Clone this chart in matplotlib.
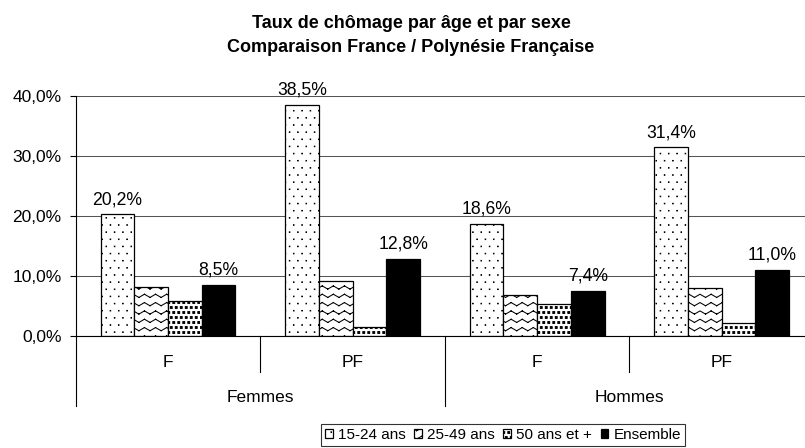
import numpy as np
import matplotlib
matplotlib.use('Agg')
import matplotlib.pyplot as plt
import matplotlib.hatch as mhatch
import matplotlib.transforms as mtransforms
from matplotlib.path import Path
from matplotlib.lines import Line2D

# ---------------- data ----------------
sexes = ['Femmes', 'Hommes']
zones = ['F', 'PF', 'F', 'PF']
series_names = ['15-24 ans', '25-49 ans', '50 ans et +', 'Ensemble']
age_15_24 = [20.2, 38.5, 18.6, 31.4]
age_25_49 = [8.1, 9.1, 6.7, 8.0]
age_50_plus = [5.7, 1.5, 5.2, 2.1]
ensemble = [8.5, 12.8, 7.4, 11.0]
labelled = [True, False, False, True]
y_ticks = [0, 10, 20, 30, 40]
title_lines = ['Taux de chômage par âge et par sexe',
               'Comparaison France / Polynésie Française']


# ---------------- custom hatch patterns ----------------
def _square(vertices, codes, i, cx, cy, h):
    vertices[i:i + 5] = [[cx - h, cy - h], [cx + h, cy - h], [cx + h, cy + h],
                         [cx - h, cy + h], [cx - h, cy - h]]
    codes[i] = Path.MOVETO
    codes[i + 1:i + 4] = Path.LINETO
    codes[i + 4] = Path.CLOSEPOLY


class SquareGrid(mhatch.HatchPatternBase):
    char = '.'
    cols = 12
    rows = 14
    half = 0.002

    def __init__(self, hatch, density):
        n = hatch.count(self.char)
        self.num_vertices = 5 * self.cols * self.rows if n else 0

    def set_vertices_and_codes(self, vertices, codes):
        i = 0
        for r in range(self.rows):
            off = 0.5 if r % 2 else 0.0
            y = (r + 0.5) / self.rows
            for c in range(self.cols):
                x = (c + 0.25 + off) / self.cols
                _square(vertices, codes, i, x, y, self.half)
                i += 5


class SparseDots(SquareGrid):
    char = '.'
    cols = 12
    rows = 14
    half = 0.0025


class DenseSquares(SquareGrid):
    char = 'o'
    cols = 20
    rows = 20
    half = 0.009


class Zigzag(mhatch.HatchPatternBase):
    char = '/'
    rows = 12
    periods = 9
    amp = 0.016

    def __init__(self, hatch, density):
        n = hatch.count(self.char)
        self.num_vertices = (self.rows * self.periods * 2 * 2) if n else 0

    def set_vertices_and_codes(self, vertices, codes):
        i = 0
        steps = 2 * self.periods
        for r in range(self.rows):
            y = (r + 0.5) / self.rows
            for k in range(steps):
                s0 = 1 if k % 2 == 0 else -1
                vertices[i] = [k / steps, y + s0 * self.amp]
                vertices[i + 1] = [(k + 1) / steps, y - s0 * self.amp]
                codes[i] = Path.MOVETO
                codes[i + 1] = Path.LINETO
                i += 2


mhatch._hatch_types[:] = [SparseDots, Zigzag, DenseSquares]

# ---------------- style ----------------
plt.rcParams['font.family'] = ['Liberation Sans', 'DejaVu Sans']
plt.rcParams['hatch.linewidth'] = 0.75

fig = plt.figure(figsize=(8.05, 4.48), dpi=100)
ax = fig.add_axes([75.7 / 805, 1 - 335.5 / 448, (814 - 75.7) / 805, 239.8 / 448])

series = [age_15_24, age_25_49, age_50_plus, ensemble]
hatches = ['.', '/', 'o', None]
faces = ['white', 'white', 'white', 'black']
x = np.arange(len(zones))
w = 0.1826


def fmt(v):
    return f'{v:.1f}'.replace('.', ',') + '%'


handles = []
for k, vals in enumerate(series):
    cont = ax.bar(x + (k - 1.5) * w, vals, w, facecolor=faces[k], edgecolor='black',
                  linewidth=0.9, hatch=hatches[k], label=series_names[k], zorder=2)
    handles.append(cont)
    if labelled[k]:
        ax.bar_label(cont, labels=[fmt(v) for v in vals], padding=4.5, fontsize=12.7)

ax.set_xlim(-0.5, len(zones) - 0.5)
ax.set_ylim(y_ticks[0], y_ticks[-1])
ax.set_yticks(y_ticks)
ax.set_yticklabels([fmt(v) for v in y_ticks], fontsize=12.5)
ax.tick_params(axis='y', length=4.3, width=0.8, pad=6, colors='black')
ax.set_xticks([])
ax.yaxis.grid(True, color='#555555', linewidth=0.75)
ax.set_axisbelow(True)
for s in ['top', 'right']:
    ax.spines[s].set_visible(False)
ax.spines['left'].set_linewidth(0.8)
ax.spines['bottom'].set_linewidth(0.8)

trans = mtransforms.blended_transform_factory(ax.transData, ax.transAxes)
# zone labels and dividers
for i, z in enumerate(zones):
    ax.text(i, -0.130, z, transform=trans, ha='center', va='baseline', fontsize=12.5)
n_per = len(zones) // len(sexes)
for b in range(len(zones)):
    xb = b - 0.5
    depth = -0.294 if b % n_per == 0 else -0.152
    ax.add_line(Line2D([xb, xb], [0, depth], transform=trans, color='black',
                       linewidth=0.8, clip_on=False))
for j, s in enumerate(sexes):
    xc = j * n_per + (n_per - 1) / 2
    ax.text(xc, -0.276, s, transform=trans, ha='center', va='baseline', fontsize=12.5)

# title
fig.text(411 / 805, 1 - 27.5 / 448, title_lines[0], ha='center', va='baseline',
         fontsize=13, fontweight='bold')
fig.text(411 / 805, 1 - 52.3 / 448, title_lines[1], ha='center', va='baseline',
         fontsize=13, fontweight='bold')

leg = fig.legend(handles, series_names, loc='center', bbox_to_anchor=(503 / 805, 1 - 435 / 448),
                 ncol=4, fontsize=11, frameon=True, fancybox=False, edgecolor='black',
                 handlelength=0.5, handleheight=0.5, handletextpad=0.35,
                 columnspacing=0.55, borderpad=0.25, borderaxespad=0)
leg.get_frame().set_linewidth(0.8)

fig.savefig('out.png', dpi=100)
